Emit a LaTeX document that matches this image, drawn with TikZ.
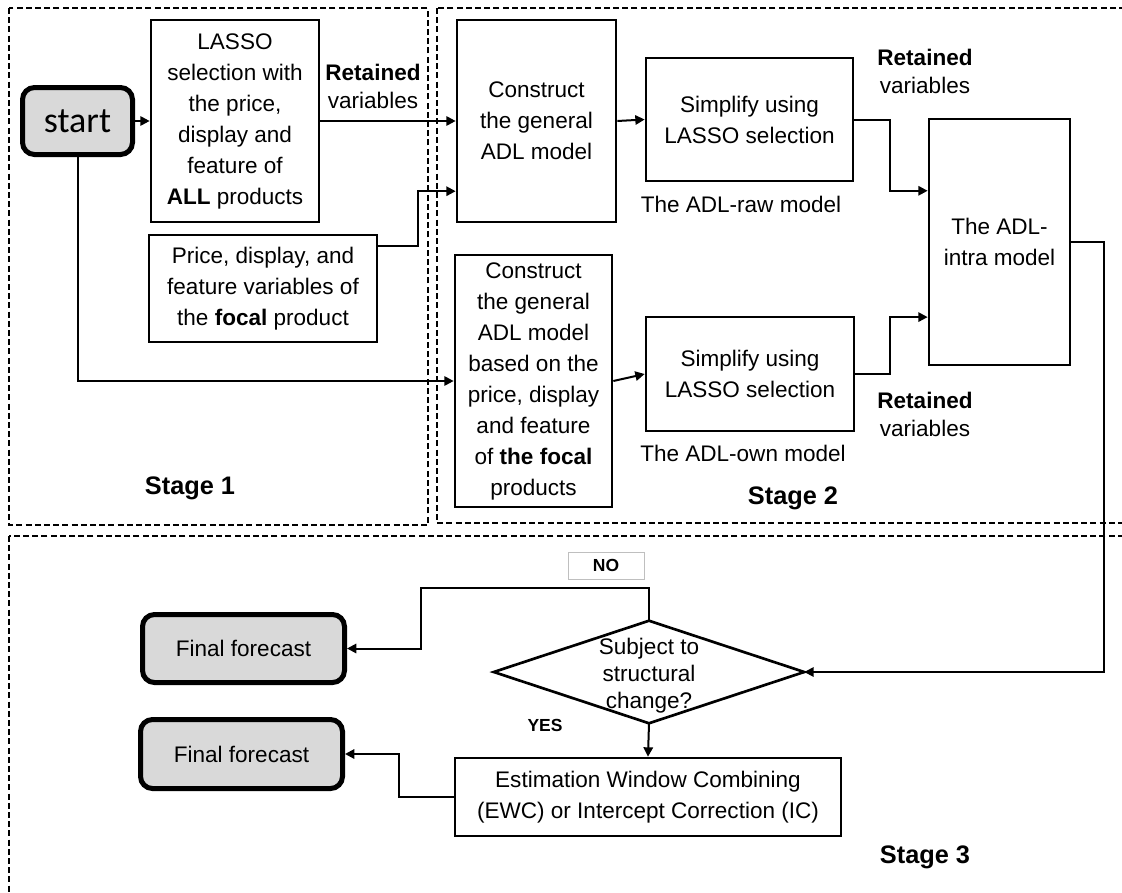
\documentclass[tikz,border=0pt]{standalone}
\usepackage{fontspec}
\setmainfont{Liberation Sans}
\newfontfamily\calib{Carlito}
\usetikzlibrary{arrows.meta,calc}
\definecolor{termgray}{HTML}{D9D9D9}
\begin{document}
\begin{tikzpicture}[x=0.75pt,y=-0.75pt,
  every node/.style={font=\fontsize{16.9}{23.25}\selectfont, align=center, inner sep=0pt},
  box/.style={draw, line width=2pt, fill=white},
  term/.style={draw, line width=3.75pt, rounded corners=9pt, fill=termgray},
  conn/.style={line width=1.5pt, -{Triangle[length=7pt,width=7pt]}},
  frame/.style={line width=1.9pt, dash pattern=on 4.5pt off 2.4pt},
  sz/.style 2 args={minimum width=#1*0.75pt, minimum height=#2*0.75pt},
  lbl/.style={font=\fontsize{16.9}{21}\selectfont},
  stagelbl/.style={font=\fontsize{19}{22}\selectfont\bfseries},
  yn/.style={font=\fontsize{13.1}{15}\selectfont\bfseries}
]
\useasboundingbox (0,0) rectangle (1122,893);

% stage frames
\draw[frame] (9,8) rectangle (428,525);
\draw[frame] (437,8) rectangle (1140,523);
\draw[frame] (9,536) rectangle (1140,910);

% nodes
\node[term, sz={110}{67}, font=\calib\fontsize{27}{30}\selectfont] (start) at (77.5,121) {start};
\node[box, sz={168}{202}] (lasso) at (235,121) {LASSO\\selection with\\the price,\\display and\\feature of\\\textbf{ALL} products};
\node[box, sz={228}{107}] (price) at (263,288.5) {Price, display, and\\feature variables of\\the \textbf{focal} product};
\node[box, sz={159}{202}] (c1) at (536.5,121) {Construct\\the general\\ADL model};
\node[box, sz={207}{123}] (s1) at (749.5,119.5) {Simplify using\\LASSO selection};
\node[box, sz={157}{252}] (c2) at (533.5,381) {Construct\\the general\\ADL model\\based on the\\price, display\\and feature\\of \textbf{the focal}\\products};
\node[box, sz={208}{114}] (s2) at (750,374) {Simplify using\\LASSO selection};
\node[box, sz={141}{246}] (intra) at (999.5,242) {The ADL-\\intra model};

\node[term, sz={202}{68}] (ff1) at (243.5,648.5) {Final forecast};
\node[term, sz={202}{69}] (ff2) at (241.5,754) {Final forecast};
\node[sz={310}{102}] (dia) at (649,672) {};
\draw[line width=2pt, fill=white] (dia.north) -- (dia.east) -- (dia.south) -- (dia.west) -- cycle;
\node[font=\fontsize{16.9}{20.25}\selectfont, yshift=-3pt] (diatxt) at (dia.center) {Subject to\\structural\\change?};
\node[box, sz={386}{78}] (ewc) at (648,797) {Estimation Window Combining\\(EWC) or Intercept Correction (IC)};
\node[draw=black!25, line width=0.75pt, fill=white, sz={76}{27}, yn] (no) at (606,565.5) {NO};
\node[yn] (yes) at (545,725) {YES};

% labels
\node[lbl] (ret1) at (373,86) {\textbf{Retained}\\variables};
\node[lbl] (ret2) at (925,71) {\textbf{Retained}\\variables};
\node[lbl] (ret3) at (925,414) {\textbf{Retained}\\variables};
\node (raw) at (741,204) {The ADL-raw model};
\node (own) at (743,453) {The ADL-own model};
\node[stagelbl] (st1) at (190,488) {Stage 1};
\node[stagelbl] (st2) at (793,498) {Stage 2};
\node[stagelbl] (st3) at (925,857) {Stage 3};

% connectors
\draw[conn] (start.east) -- (lasso.west);
\draw[conn] (lasso.east) -- (c1.west);
\draw[conn] ($(price.north east)!0.11!(price.south east)$) -- ++(40,0) |- ($(c1.north west)!0.843!(c1.south west)$);
\draw[conn] (start.south) |- (c2.west);
\draw[conn] (c1.east) -- (s1.west);
\draw[conn] (c2.east) -- (s2.west);
\draw[conn] (s1.east) -- ++(36,0) |- ($(intra.north west)!0.294!(intra.south west)$);
\draw[conn] (s2.east) -- ++(35,0) |- ($(intra.north west)!0.802!(intra.south west)$);
\draw[conn] (intra.east) -- ++(33,0) |- (dia.east);
\draw[conn] (dia.north) -- ++(0,-33) -- ++(-228,0) |- (ff1.east);
\draw[conn] (dia.south) -- (ewc.north);
\draw[conn] (ewc.west) -- ++(-55,0) |- (ff2.east);
\end{tikzpicture}
\end{document}
